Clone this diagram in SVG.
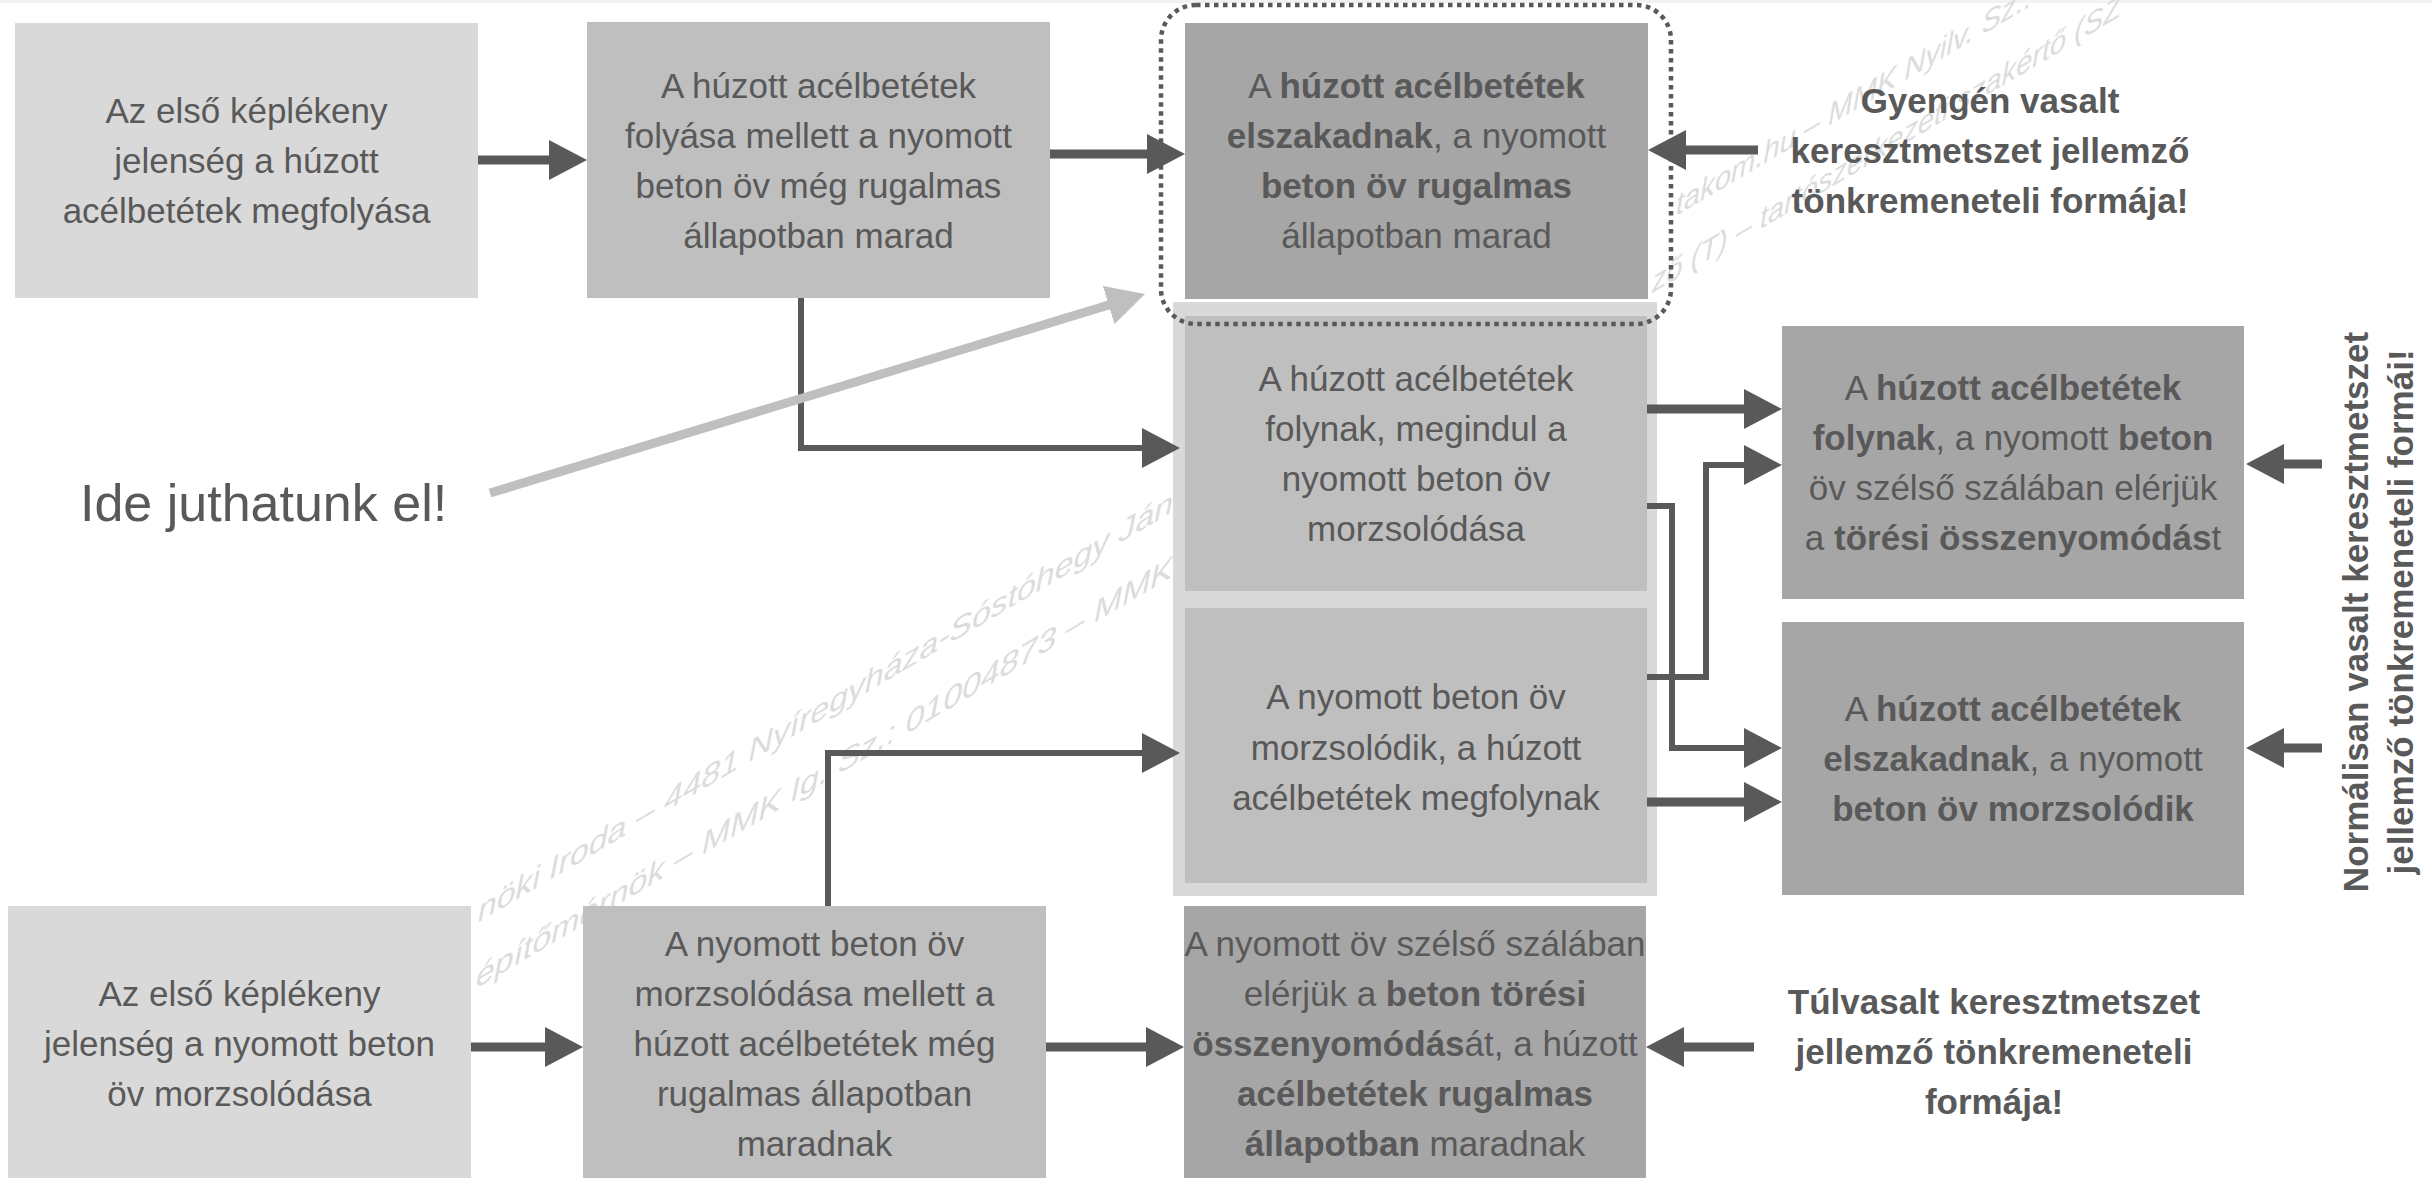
<svg xmlns="http://www.w3.org/2000/svg" width="2432" height="1178" viewBox="0 0 2432 1178">
<style>
text{font-family:"Liberation Sans",Arial,Helvetica,sans-serif;fill:#595959}
.t{font-size:35px;text-anchor:middle}
.b{font-weight:bold}
.l1{fill:#d9d9d9}
.l2{fill:#bfbfbf}
.l3{fill:#a6a6a6}
.wm{font-size:30px;font-style:italic;fill:#dcdcdc}
.ln{fill:none;stroke:#595959}
.w9{stroke-width:9}
.w6{stroke-width:6}
</style>
<defs>
<marker id="ah" markerUnits="userSpaceOnUse" viewBox="0 0 38 40" markerWidth="38" markerHeight="40" refX="6" refY="20" orient="auto"><path d="M0,0L38,20L0,40Z" fill="#595959"/></marker>
<marker id="ahg" markerUnits="userSpaceOnUse" viewBox="0 0 38 40" markerWidth="38" markerHeight="40" refX="6" refY="20" orient="auto"><path d="M0,0L38,20L0,40Z" fill="#bfbfbf"/></marker>
</defs>
<rect width="2432" height="1178" fill="#ffffff"/>
<rect width="2432" height="3" fill="#f2f2f2"/>

<g id="watermark" transform="skewY(-30.6)">
<text class="wm" x="478" y="1205" textLength="695" lengthAdjust="spacingAndGlyphs">nöki Iroda – 4481 Nyíregyháza-Sóstóhegy Ján</text>
<text class="wm" x="476" y="1270" textLength="697" lengthAdjust="spacingAndGlyphs">építőmérnök – MMK Ig. Sz.: 01004873 – MMK</text>
<text class="wm" x="1676" y="1207" textLength="411" lengthAdjust="spacingAndGlyphs">takom.hu – MMK Nyilv. Sz.: C-1</text>
<text class="wm" x="1652" y="1270" textLength="469" lengthAdjust="spacingAndGlyphs">ző (T) – tartószerkezeti szakértő (SZ</text>
</g>

<g id="center-column">
<rect class="l1" x="1173" y="302" width="484" height="594"/>
</g>

<g id="n1">
<rect class="l1" x="15" y="23" width="463" height="275"/>
<text class="t" x="246.5" y="123">Az első képlékeny</text>
<text class="t" x="246.5" y="173">jelenség a húzott</text>
<text class="t" x="246.5" y="223">acélbetétek megfolyása</text>
</g>

<g id="n2">
<rect class="l2" x="587" y="22" width="463" height="276"/>
<text class="t" x="818.5" y="98">A húzott acélbetétek</text>
<text class="t" x="818.5" y="148">folyása mellett a nyomott</text>
<text class="t" x="818.5" y="198">beton öv még rugalmas</text>
<text class="t" x="818.5" y="248">állapotban marad</text>
</g>

<g id="n3">
<rect class="l3" x="1185" y="23" width="463" height="276"/>
<text class="t" x="1416.5" y="98">A <tspan class="b">húzott acélbetétek</tspan></text>
<text class="t" x="1416.5" y="148"><tspan class="b">elszakadnak</tspan>, a nyomott</text>
<text class="t b" x="1416.5" y="198">beton öv rugalmas</text>
<text class="t" x="1416.5" y="248">állapotban marad</text>
</g>

<g id="nA">
<rect class="l2" x="1185" y="316" width="462" height="275"/>
<text class="t" x="1416" y="391">A húzott acélbetétek</text>
<text class="t" x="1416" y="441">folynak, megindul a</text>
<text class="t" x="1416" y="491">nyomott beton öv</text>
<text class="t" x="1416" y="541">morzsolódása</text>
</g>

<g id="nB">
<rect class="l2" x="1185" y="608" width="462" height="275"/>
<text class="t" x="1416" y="709">A nyomott beton öv</text>
<text class="t" x="1416" y="760">morzsolódik, a húzott</text>
<text class="t" x="1416" y="810">acélbetétek megfolynak</text>
</g>

<g id="nC">
<rect class="l3" x="1782" y="326" width="462" height="273"/>
<text class="t" x="2013" y="400">A <tspan class="b">húzott acélbetétek</tspan></text>
<text class="t" x="2013" y="450"><tspan class="b">folynak</tspan>, a nyomott <tspan class="b">beton</tspan></text>
<text class="t" x="2013" y="500">öv szélső szálában elérjük</text>
<text class="t" x="2013" y="550">a <tspan class="b">törési összenyomódás</tspan>t</text>
</g>

<g id="nD">
<rect class="l3" x="1782" y="622" width="462" height="273"/>
<text class="t" x="2013" y="721">A <tspan class="b">húzott acélbetétek</tspan></text>
<text class="t" x="2013" y="771"><tspan class="b">elszakadnak</tspan>, a nyomott</text>
<text class="t b" x="2013" y="821">beton öv morzsolódik</text>
</g>

<g id="nE">
<rect class="l1" x="8" y="906" width="463" height="275"/>
<text class="t" x="239.5" y="1006">Az első képlékeny</text>
<text class="t" x="239.5" y="1056">jelenség a nyomott beton</text>
<text class="t" x="239.5" y="1106">öv morzsolódása</text>
</g>

<g id="nF">
<rect class="l2" x="583" y="906" width="463" height="275"/>
<text class="t" x="814.5" y="956">A nyomott beton öv</text>
<text class="t" x="814.5" y="1006">morzsolódása mellett a</text>
<text class="t" x="814.5" y="1056">húzott acélbetétek még</text>
<text class="t" x="814.5" y="1106">rugalmas állapotban</text>
<text class="t" x="814.5" y="1156">maradnak</text>
</g>

<g id="nG">
<rect class="l3" x="1184" y="906" width="462" height="275"/>
<text class="t" x="1415" y="956">A nyomott öv szélső szálában</text>
<text class="t" x="1415" y="1006">elérjük a <tspan class="b">beton törési</tspan></text>
<text class="t" x="1415" y="1056"><tspan class="b">összenyomódás</tspan>át, a húzott</text>
<text class="t b" x="1415" y="1106">acélbetétek rugalmas</text>
<text class="t" x="1415" y="1156"><tspan class="b">állapotban</tspan> maradnak</text>
</g>

<g id="frame-weak">
<rect x="1161" y="5" width="510" height="319" rx="35" ry="35" fill="none" stroke="#595959" stroke-width="4.5" stroke-dasharray="4.5 4.5"/>
</g>

<g id="label-weak">
<text class="t b" x="1990" y="113">Gyengén vasalt</text>
<text class="t b" x="1990" y="163">keresztmetszet jellemző</text>
<text class="t b" x="1990" y="213">tönkremeneteli formája!</text>
</g>

<g id="label-over">
<text class="t b" x="1994" y="1014">Túlvasalt keresztmetszet</text>
<text class="t b" x="1994" y="1064">jellemző tönkremeneteli</text>
<text class="t b" x="1994" y="1114">formája!</text>
</g>

<g id="label-normal">
<text class="t b" transform="translate(2368,612) rotate(-90)">Normálisan vasalt keresztmetszet</text>
<text class="t b" transform="translate(2413,612) rotate(-90)">jellemző tönkremeneteli formái!</text>
</g>

<g id="label-here">
<text x="80" y="521" font-size="52">Ide juthatunk el!</text>
</g>

<g id="connectors">
<path class="ln w9" d="M478,160H555" marker-end="url(#ah)"/>
<path class="ln w9" d="M1050,154H1153" marker-end="url(#ah)"/>
<path class="ln w9" d="M1758,150H1680" marker-end="url(#ah)"/>
<path class="ln w6" d="M801,298V448H1148" marker-end="url(#ah)"/>
<path class="ln w9" d="M1647,409H1750" marker-end="url(#ah)"/>
<path class="ln w6" d="M1647,506H1672V748H1750" marker-end="url(#ah)"/>
<path class="ln w6" d="M1647,677H1706V465H1750" marker-end="url(#ah)"/>
<path class="ln w9" d="M1647,802H1750" marker-end="url(#ah)"/>
<path class="ln w9" d="M2322,464H2278" marker-end="url(#ah)"/>
<path class="ln w9" d="M2322,748H2278" marker-end="url(#ah)"/>
<path class="ln w6" d="M828,906V753H1148" marker-end="url(#ah)"/>
<path class="ln w9" d="M471,1047H551" marker-end="url(#ah)"/>
<path class="ln w9" d="M1046,1047H1152" marker-end="url(#ah)"/>
<path class="ln w9" d="M1754,1047H1678" marker-end="url(#ah)"/>
<path d="M490,493L1114.4,303.3" fill="none" stroke="#bfbfbf" stroke-width="9" marker-end="url(#ahg)"/>
</g>
</svg>
